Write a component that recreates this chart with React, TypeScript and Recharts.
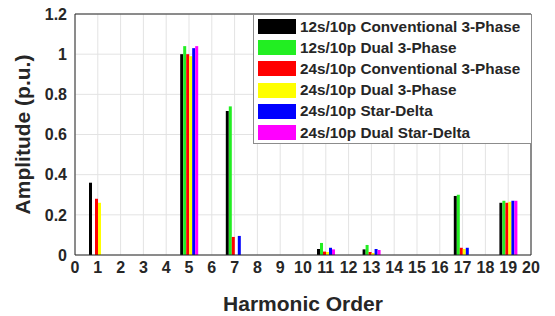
import React from 'react';
import { BarChart, Bar, XAxis, YAxis, CartesianGrid, ReferenceLine, Legend } from 'recharts';

const harmonics = [1, 5, 7, 11, 13, 17, 19];

const conv12 = [0.36, 1.0, 0.717, 0.03, 0.028, 0.294, 0.26];
const dual12 = [null, 1.04, 0.74, 0.06, 0.05, 0.3, 0.27];
const conv24 = [0.28, 1.0, 0.09, 0.017, 0.015, 0.036, 0.26];
const dual24 = [0.26, 0.99, null, 0.015, 0.01, 0.03, 0.265];
const starDelta24 = [null, 1.03, 0.095, 0.036, 0.03, 0.036, 0.27];
const dualStarDelta24 = [null, 1.04, null, 0.028, 0.025, null, 0.27];

const xTicks = Array.from({ length: 21 }, (_, i) => i);
const yTicks = [0, 0.2, 0.4, 0.6, 0.8, 1, 1.2];

const series = [
  { key: 'conv12', name: '12s/10p Conventional 3-Phase', color: '#000000', values: conv12 },
  { key: 'dual12', name: '12s/10p Dual 3-Phase', color: '#22ee22', values: dual12 },
  { key: 'conv24', name: '24s/10p Conventional 3-Phase', color: '#ff0000', values: conv24 },
  { key: 'dual24', name: '24s/10p Dual 3-Phase', color: '#ffff00', values: dual24 },
  { key: 'sd24', name: '24s/10p Star-Delta', color: '#0000ff', values: starDelta24 },
  { key: 'dsd24', name: '24s/10p Dual Star-Delta', color: '#ff00ff', values: dualStarDelta24 },
];

const data = harmonics.map((h, i) => {
  const row: any = { h };
  series.forEach((s) => { row[s.key] = s.values[i]; });
  return row;
});

const FONT = '"Liberation Sans", Arial, sans-serif';
const INK = '#262626';

const LegendBox = () => (
  <div style={{
    border: '1px solid #8c8c8c', background: '#fff', padding: '1px 4px 0 4px',
    fontFamily: FONT, fontWeight: 'bold', fontSize: 15.3, color: INK, width: 279, boxSizing: 'border-box',
  }}>
    {series.map((s) => (
      <div key={s.key} style={{ display: 'flex', alignItems: 'center', height: 21.2 }}>
        <span style={{ width: 38, height: 15, background: s.color, marginRight: 4, flexShrink: 0 }} />
        <span style={{ whiteSpace: 'nowrap' }}>{s.name}</span>
      </div>
    ))}
  </div>
);

export default function App() {
  return (
    <div style={{ position: 'absolute', left: 0, top: 0, background: '#fff' }}>
      <BarChart width={555} height={316} data={data} barGap={0} barSize={3}
        margin={{ top: 14, right: 24, left: 0, bottom: 0 }}>
        <CartesianGrid stroke="#e3e3e3" horizontalValues={yTicks} verticalValues={xTicks} />
        <XAxis dataKey="h" type="number" domain={[0, 20]} ticks={xTicks} interval={0}
          height={61} tickSize={0} tickMargin={7} stroke={INK}
          tick={{ fill: INK, fontSize: 16, fontWeight: 'bold', fontFamily: FONT }}
          label={{ value: 'Harmonic Order', position: 'insideBottom', offset: 5,
            style: { fill: INK, fontSize: 21, fontWeight: 'bold', fontFamily: FONT } }} />
        <YAxis type="number" domain={[0, 1.2]} ticks={yTicks} width={75} tickSize={0} tickMargin={8}
          stroke={INK} tick={{ fill: INK, fontSize: 16, fontWeight: 'bold', fontFamily: FONT }}
          label={{ value: 'Amplitude (p.u.)', angle: -90, position: 'center', dx: -15,
            style: { fill: INK, fontSize: 21, fontWeight: 'bold', fontFamily: FONT } }} />
        <ReferenceLine y={1.2} stroke={INK} />
        <ReferenceLine x={20} stroke={INK} />
        {series.map((s) => (
          <Bar key={s.key} dataKey={s.key} name={s.name} fill={s.color} isAnimationActive={false} />
        ))}
        <Legend layout="vertical" align="center" verticalAlign="middle" content={() => <LegendBox />}
          wrapperStyle={{ left: 253, top: 14, width: 279, height: 'auto' }} />
      </BarChart>
    </div>
  );
}
